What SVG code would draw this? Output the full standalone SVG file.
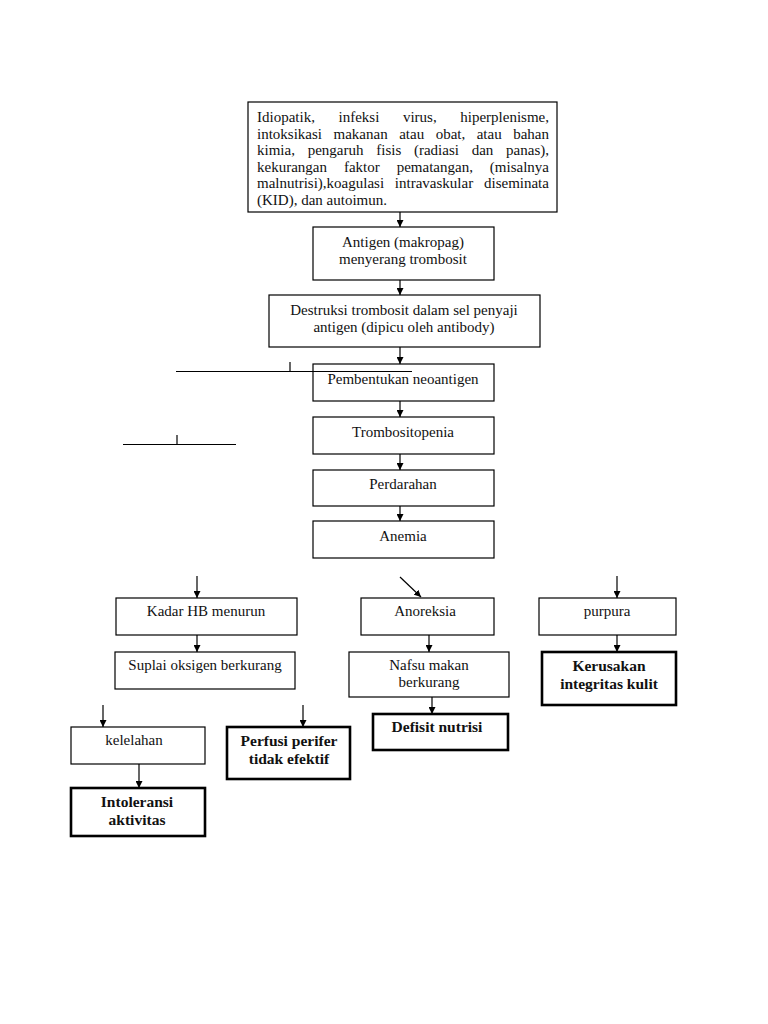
<svg xmlns="http://www.w3.org/2000/svg" width="768" height="1024" viewBox="0 0 768 1024">
<style>
.b{fill:#fff;stroke:#000;stroke-width:1.2}
.k{fill:#fff;stroke:#000;stroke-width:2.6}
.t{font-family:"Liberation Serif","DejaVu Serif",serif;font-size:15px;fill:#111;text-anchor:middle}
.j{font-family:"Liberation Serif","DejaVu Serif",serif;font-size:15px;fill:#111}
.bt{font-family:"Liberation Serif","DejaVu Serif",serif;font-size:15.5px;font-weight:bold;fill:#111;text-anchor:middle}
.c{stroke:#000;stroke-width:1.2;fill:none}
</style>
<defs>
<marker id="a" viewBox="0 0 10 10" refX="10" refY="5" markerWidth="7" markerHeight="7" markerUnits="userSpaceOnUse" orient="auto">
<path d="M0,0 L10,5 L0,10 z" fill="#000"/>
</marker>
</defs>
<rect width="768" height="1024" fill="#fff"/>
<g id="n1">
<rect class="b" x="248" y="102" width="309" height="110"/>
<text class="j" x="257" y="122" word-spacing="19.85">Idiopatik, infeksi virus, hiperplenisme,</text>
<text class="j" x="257" y="138.5" word-spacing="7.75">intoksikasi makanan atau obat, atau bahan</text>
<text class="j" x="257" y="155" word-spacing="9">kimia, pengaruh fisis (radiasi dan panas),</text>
<text class="j" x="257" y="171.5" word-spacing="13.2">kekurangan faktor pematangan, (misalnya</text>
<text class="j" x="257" y="188" word-spacing="7.05">malnutrisi),koagulasi intravaskular diseminata</text>
<text class="j" x="257" y="204.5">(KID), dan autoimun.</text>
</g>
<g id="n2"><rect class="b" x="313" y="227" width="181" height="53"/>
<text class="t" x="403" y="247">Antigen (makropag)</text><text class="t" x="403" y="264">menyerang trombosit</text></g>
<g id="n3"><rect class="b" x="269" y="295" width="271" height="52"/>
<text class="t" x="404" y="315">Destruksi trombosit dalam sel penyaji</text><text class="t" x="404" y="332">antigen (dipicu oleh antibody)</text></g>
<g id="n4"><rect class="b" x="313" y="364" width="181" height="37"/>
<text class="t" x="403" y="384">Pembentukan neoantigen</text></g>
<g id="n5"><rect class="b" x="313" y="417" width="181" height="37"/>
<text class="t" x="403" y="437">Trombositopenia</text></g>
<g id="n6"><rect class="b" x="313" y="470" width="181" height="36"/>
<text class="t" x="403" y="489">Perdarahan</text></g>
<g id="n7"><rect class="b" x="313" y="521" width="181" height="37"/>
<text class="t" x="403" y="541">Anemia</text></g>
<g id="n8"><rect class="b" x="116" y="598" width="181" height="37"/>
<text class="t" x="206" y="616">Kadar HB menurun</text></g>
<g id="n9"><rect class="b" x="115" y="652" width="180" height="37"/>
<text class="t" x="205" y="670">Suplai oksigen berkurang</text></g>
<g id="n10"><rect class="b" x="361" y="598" width="133" height="37"/>
<text class="t" x="425" y="616">Anoreksia</text></g>
<g id="n11"><rect class="b" x="349" y="652" width="160" height="45"/>
<text class="t" x="429" y="670">Nafsu makan</text><text class="t" x="429" y="687">berkurang</text></g>
<g id="n12"><rect class="k" x="373" y="714" width="135" height="36"/>
<text class="bt" x="437" y="732">Defisit nutrisi</text></g>
<g id="n13"><rect class="b" x="539" y="598" width="137" height="37"/>
<text class="t" x="607" y="616">purpura</text></g>
<g id="n14"><rect class="k" x="542" y="652" width="134" height="53"/>
<text class="bt" x="609" y="671">Kerusakan</text><text class="bt" x="609" y="689">integritas kulit</text></g>
<g id="n15"><rect class="b" x="71" y="727" width="134" height="37"/>
<text class="t" x="134" y="745">kelelahan</text></g>
<g id="n16"><rect class="k" x="71" y="788" width="134" height="48"/>
<text class="bt" x="137" y="807">Intoleransi</text><text class="bt" x="137" y="825">aktivitas</text></g>
<g id="n17"><rect class="k" x="227" y="727" width="123" height="52"/>
<text class="bt" x="289" y="746">Perfusi perifer</text><text class="bt" x="289" y="764">tidak efektif</text></g>
<g id="connectors">
<line class="c" x1="400" y1="212" x2="400" y2="227" marker-end="url(#a)"/>
<line class="c" x1="400" y1="280" x2="400" y2="295" marker-end="url(#a)"/>
<line class="c" x1="400" y1="347" x2="400" y2="364" marker-end="url(#a)"/>
<line class="c" x1="400" y1="401" x2="400" y2="417" marker-end="url(#a)"/>
<line class="c" x1="400" y1="454" x2="400" y2="470" marker-end="url(#a)"/>
<line class="c" x1="400" y1="506" x2="400" y2="521" marker-end="url(#a)"/>
<line class="c" x1="176" y1="371.5" x2="412" y2="371.5"/>
<line class="c" x1="290" y1="362" x2="290" y2="371.5"/>
<line class="c" x1="123" y1="444.5" x2="236" y2="444.5"/>
<line class="c" x1="177" y1="435" x2="177" y2="444.5"/>
<line class="c" x1="197" y1="576" x2="197" y2="598" marker-end="url(#a)"/>
<line class="c" x1="197" y1="635" x2="197" y2="652" marker-end="url(#a)"/>
<line class="c" x1="400" y1="577" x2="421" y2="597" marker-end="url(#a)"/>
<line class="c" x1="429" y1="635" x2="429" y2="652" marker-end="url(#a)"/>
<line class="c" x1="432" y1="697" x2="432" y2="714" marker-end="url(#a)"/>
<line class="c" x1="617" y1="576" x2="617" y2="598" marker-end="url(#a)"/>
<line class="c" x1="617" y1="635" x2="617" y2="652" marker-end="url(#a)"/>
<line class="c" x1="103" y1="705" x2="103" y2="727" marker-end="url(#a)"/>
<line class="c" x1="139" y1="764" x2="139" y2="788" marker-end="url(#a)"/>
<line class="c" x1="303" y1="705" x2="303" y2="727" marker-end="url(#a)"/>
</g>
</svg>
